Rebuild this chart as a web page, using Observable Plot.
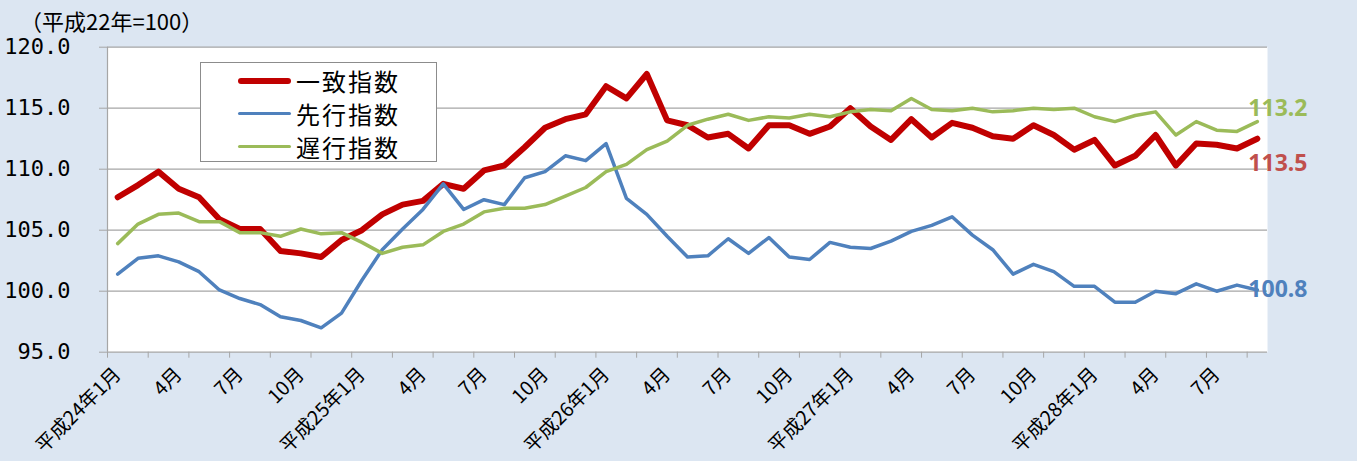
<!DOCTYPE html>
<html>
<head>
<meta charset="utf-8">
<script src="https://cdn.jsdelivr.net/npm/d3@7"></script>
<script src="https://cdn.jsdelivr.net/npm/@observablehq/plot@0.6"></script>
<style>
  html, body { margin: 0; padding: 0; background: #dce6f2; }
  #wrap { position: relative; width: 1357px; height: 461px; background: #dce6f2; overflow: hidden; }
  #title { position: absolute; left: 20px; top: 4px; font-family: "Noto Sans CJK JP"; font-size: 22px; color: #000; }
  #legend { position: absolute; left: 200px; top: 62px; width: 235px; height: 98px; background: #fff; border: 1.5px solid #8c8c8c; }
  .sw { position: absolute; left: 37px; width: 53px; border-radius: 4px; }
  .lab { position: absolute; left: 95px; font-family: "Noto Sans CJK JP"; font-size: 24px; letter-spacing: 2px; color: #000; white-space: nowrap; line-height: 33px; }
  svg { position: absolute; left: 0; top: 0; }
</style>
</head>
<body>
<div id="wrap">
  <div id="title"></div>
  <div id="legend"></div>
</div>
<script>
// ---- data ----
const seriesNames = ["一致指数", "先行指数", "遅行指数"];
const seriesColors = ["#c00000", "#4f81bd", "#9bbb59"];
const seriesWidths = [6, 3.5, 3.5];

// 平成24年1月 ... 平成28年9月 (57 months)
const coincident = [
  107.7, 108.7, 109.8, 108.4, 107.7, 105.9, 105.1, 105.1, 103.3, 103.1, 102.8, 104.2,
  105.0, 106.3, 107.1, 107.4, 108.8, 108.4, 109.9, 110.3, 111.8, 113.4, 114.1, 114.5,
  116.8, 115.8, 117.8, 114.0, 113.6, 112.6, 112.9, 111.7, 113.6, 113.6, 112.9, 113.5,
  115.0, 113.5, 112.4, 114.1, 112.6, 113.8, 113.4, 112.7, 112.5, 113.6, 112.8, 111.6,
  112.4, 110.3, 111.1, 112.8, 110.3, 112.1, 112.0, 111.7, 112.5
];
const leading = [
  101.4, 102.7, 102.9, 102.4, 101.6, 100.1, 99.4, 98.9, 97.9, 97.6, 97.0, 98.2,
  100.9, 103.4, 105.1, 106.7, 108.8, 106.7, 107.5, 107.1, 109.3, 109.8, 111.1, 110.7,
  112.1, 107.6, 106.3, 104.5, 102.8, 102.9, 104.3, 103.1, 104.4, 102.8, 102.6, 104.0,
  103.6, 103.5, 104.1, 104.9, 105.4, 106.1, 104.6, 103.4, 101.4, 102.2, 101.6, 100.4,
  100.4, 99.1, 99.1, 100.0, 99.8, 100.6, 100.0, 100.5, 100.1
];
const lagging = [
  103.9, 105.5, 106.3, 106.4, 105.7, 105.7, 104.8, 104.8, 104.5, 105.1, 104.7, 104.8,
  104.0, 103.1, 103.6, 103.8, 104.9, 105.5, 106.5, 106.8, 106.8, 107.1, 107.8, 108.5,
  109.8, 110.4, 111.6, 112.3, 113.6, 114.1, 114.5, 114.0, 114.3, 114.2, 114.5, 114.3,
  114.7, 114.9, 114.8, 115.8, 114.9, 114.8, 115.0, 114.7, 114.8, 115.0, 114.9, 115.0,
  114.3, 113.9, 114.4, 114.7, 112.8, 113.9, 113.2, 113.1, 113.9
];
const series = [coincident, leading, lagging];

const tickLabels = [
  "平成24年1月", "4月", "7月", "10月",
  "平成25年1月", "4月", "7月", "10月",
  "平成26年1月", "4月", "7月", "10月",
  "平成27年1月", "4月", "7月", "10月",
  "平成28年1月", "4月", "7月"
];
const labelIdx = tickLabels.map((_, k) => k * 3);
const boundaryTicks = d3.range(0, 29).map(k => -0.5 + 2 * k);
const yTicks = [95, 100, 105, 110, 115, 120];
const endLabels = ["113.5", "100.8", "113.2"];
const endDy = [25, 0, -13];
const titleText = "（平成22年=100）";

// ---- title & legend ----
document.getElementById("title").textContent = titleText;
const legend = document.getElementById("legend");
seriesNames.forEach((name, k) => {
  const top = 1 + k * 33;
  const sw = document.createElement("div");
  sw.className = "sw";
  sw.style.top = (top + 16.5 - seriesWidths[k] / 2) + "px";
  sw.style.height = seriesWidths[k] + "px";
  sw.style.background = seriesColors[k];
  legend.appendChild(sw);
  const lab = document.createElement("div");
  lab.className = "lab";
  lab.style.top = top + "px";
  lab.textContent = name;
  legend.appendChild(lab);
});

// ---- chart ----
const grid = "#a6a6a6";
const lastIdx = coincident.length - 1;
const chart = Plot.plot({
  width: 1357,
  height: 461,
  marginLeft: 107,
  marginRight: 90,
  marginTop: 46.7,
  marginBottom: 109.3,
  style: { background: "transparent", color: "#000", overflow: "visible" },
  x: { type: "linear", domain: [-0.5, lastIdx + 0.5] },
  y: { domain: [95, 120] },
  marks: [
    Plot.frame({ fill: "white", stroke: null }),
    Plot.gridY({ ticks: yTicks, stroke: grid, strokeOpacity: 1, strokeWidth: 1.2 }),
    Plot.ruleX([-0.5], { stroke: grid, strokeWidth: 1.2 }),
    Plot.axisY({
      ticks: yTicks, tickSize: 8, tickPadding: 29, stroke: grid, fill: "#000",
      tickFormat: d => d.toFixed(1), fontSize: 22, fontFamily: "DejaVu Sans Mono", label: null
    }),
    Plot.axisX({
      ticks: boundaryTicks, tickSize: 6, stroke: grid, tickFormat: () => "", label: null
    }),
    Plot.axisX({
      ticks: labelIdx, tickSize: 0, tickPadding: 19, tickRotate: -45, fill: "#000",
      tickFormat: d => tickLabels[labelIdx.indexOf(d)], fontSize: 19.5,
      fontFamily: "Noto Sans CJK JP", label: null
    }),
    ...series.map((vals, k) => Plot.line(vals, {
      x: (d, i) => i, y: d => d, stroke: seriesColors[k], strokeWidth: seriesWidths[k],
      strokeLinejoin: "round", strokeLinecap: "round"
    })),
    ...series.map((vals, k) => Plot.text([vals[lastIdx]], {
      x: () => lastIdx, y: d => d, text: () => endLabels[k], dx: -9, dy: endDy[k],
      textAnchor: "start", fontWeight: "bold", fontSize: 23, fontFamily: "Noto Sans",
      fill: ["#c0504d", "#4f81bd", "#9bbb59"][k]
    }))
  ]
});
document.getElementById("wrap").insertBefore(chart, document.getElementById("title"));
</script>
</body>
</html>
